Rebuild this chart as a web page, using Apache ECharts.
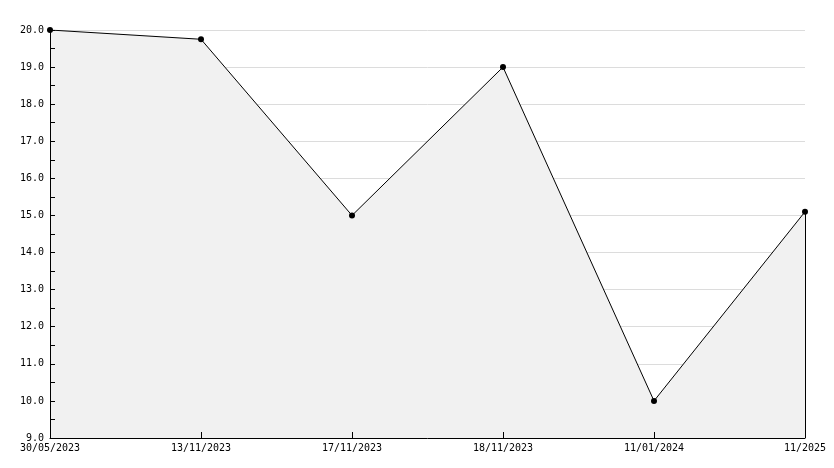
<!DOCTYPE html>
<html><head><meta charset="utf-8">
<script src="https://cdn.jsdelivr.net/npm/echarts@6/dist/echarts.min.js"></script>
<style>html,body{margin:0;padding:0;background:#fff}#c{width:834px;height:468px}</style>
</head><body><div id="c"></div>
<script>
const categories = ['30/05/2023','13/11/2023','17/11/2023','18/11/2023','11/01/2024','11/2025'];
const values = [20.0, 19.75, 15.0, 19.0, 10.0, 15.1];
const yMin = 9, yMax = 20;
const font = 'DejaVu Sans Mono';
const chart = echarts.init(document.getElementById('c'), null, {renderer:'canvas'});
const lastCat = categories[categories.length-1];
const lastVal = values[values.length-1];
chart.setOption({
  animation:false,
  backgroundColor:'#ffffff',
  grid:{left:50,right:29,top:30,bottom:30,containLabel:false},
  xAxis:{
    type:'category', data:categories, boundaryGap:false, zlevel:2,
    axisLine:{lineStyle:{color:'#000',width:1}},
    axisTick:{show:true,inside:true,length:6,alignWithLabel:true,lineStyle:{color:'#000'}},
    axisLabel:{color:'#000',fontFamily:font,fontSize:10,margin:5,interval:0},
    splitLine:{show:false}
  },
  yAxis:[{
    type:'value', min:yMin, max:yMax, interval:1, zlevel:0,
    axisLine:{show:false}, axisTick:{show:false}, axisLabel:{show:false},
    splitLine:{show:true,lineStyle:{color:'#dcdcdc',width:1}}
  },{
    type:'value', min:yMin, max:yMax, interval:1, zlevel:2, position:'left',
    axisLine:{show:true,lineStyle:{color:'#000',width:1}},
    axisTick:{show:true,inside:true,length:5,lineStyle:{color:'#000'}},
    minorTick:{show:true,splitNumber:2,length:5,lineStyle:{color:'#000'}},
    axisLabel:{color:'#000',fontFamily:font,fontSize:10,margin:6,formatter:v=>v.toFixed(1)},
    splitLine:{show:false}
  }],
  series:[{
    type:'line', data:values, zlevel:1, yAxisIndex:0,
    symbol:'circle', symbolSize:6,
    itemStyle:{color:'#000'},
    lineStyle:{color:'#000',width:1},
    areaStyle:{color:'#f1f1f1',opacity:1,origin:'start'},
    markLine:{
      silent:true, symbol:['none','none'],
      lineStyle:{color:'#000',width:1,type:'solid'},
      label:{show:false},
      data:[[{coord:[lastCat,lastVal]},{coord:[lastCat,yMin]}]]
    }
  }]
});
</script></body></html>
